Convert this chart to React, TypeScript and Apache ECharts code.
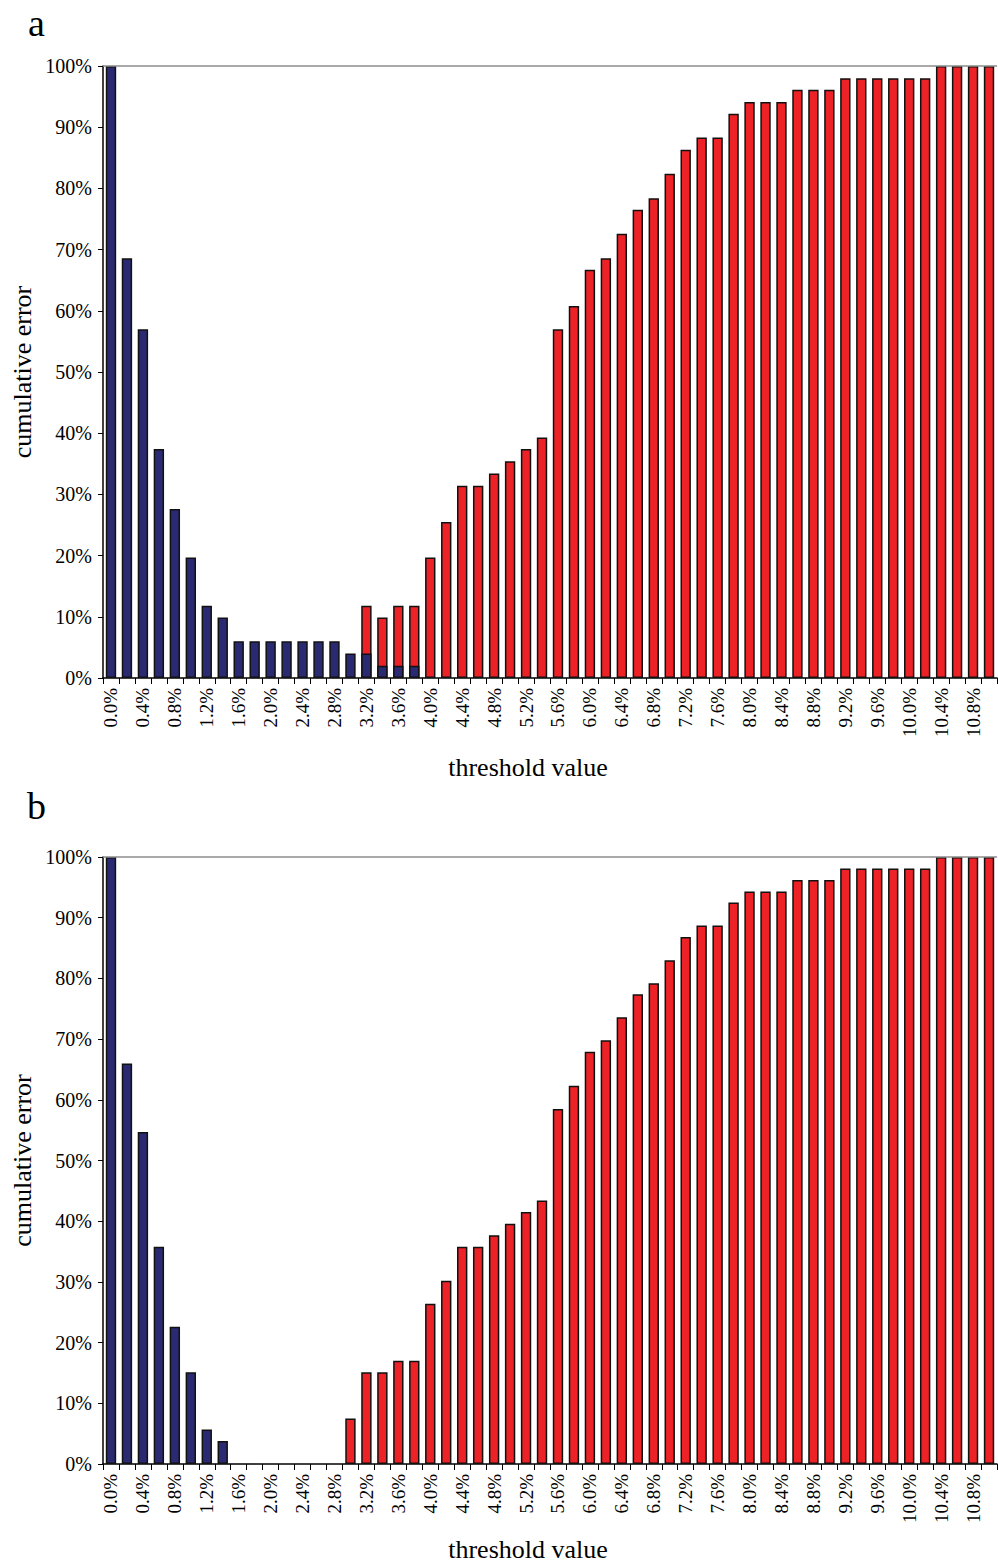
import React, { useEffect, useRef } from "react";
import * as echarts from "echarts";

const thresholds = [
  "0.0%", "0.2%", "0.4%", "0.6%", "0.8%", "1.0%", "1.2%", "1.4%", "1.6%", "1.8%",
  "2.0%", "2.2%", "2.4%", "2.6%", "2.8%", "3.0%", "3.2%", "3.4%", "3.6%", "3.8%",
  "4.0%", "4.2%", "4.4%", "4.6%", "4.8%", "5.0%", "5.2%", "5.4%", "5.6%", "5.8%",
  "6.0%", "6.2%", "6.4%", "6.6%", "6.8%", "7.0%", "7.2%", "7.4%", "7.6%", "7.8%",
  "8.0%", "8.2%", "8.4%", "8.6%", "8.8%", "9.0%", "9.2%", "9.4%", "9.6%", "9.8%",
  "10.0%", "10.2%", "10.4%", "10.6%", "10.8%", "11.0%",
];

const yTicks = [0, 10, 20, 30, 40, 50, 60, 70, 80, 90, 100];

// Panel a
const blueA = [
  100, 68.6, 57.0, 37.4, 27.6, 19.7, 11.8, 9.9, 6.0, 6.0,
  6.0, 6.0, 6.0, 6.0, 6.0, 4.0, 4.0, 2.0, 2.0, 2.0,
  null, null, null, null, null, null, null, null, null, null,
  null, null, null, null, null, null, null, null, null, null,
  null, null, null, null, null, null, null, null, null, null,
  null, null, null, null, null, null,
];
const redA = [
  null, null, null, null, null, null, null, null, null, null,
  null, null, null, null, null, null, 11.8, 9.9, 11.8, 11.8,
  19.7, 25.5, 31.4, 31.4, 33.4, 35.4, 37.4, 39.3, 57.0, 60.8,
  66.7, 68.6, 72.6, 76.5, 78.4, 82.4, 86.3, 88.3, 88.3, 92.2,
  94.1, 94.1, 94.1, 96.1, 96.1, 96.1, 98.0, 98.0, 98.0, 98.0,
  98.0, 98.0, 100, 100, 100, 100,
];

// Panel b
const blueB = [
  100, 66.0, 54.7, 35.8, 22.6, 15.1, 5.7, 3.8, null, null,
  null, null, null, null, null, null, null, null, null, null,
  null, null, null, null, null, null, null, null, null, null,
  null, null, null, null, null, null, null, null, null, null,
  null, null, null, null, null, null, null, null, null, null,
  null, null, null, null, null, null,
];
const redB = [
  null, null, null, null, null, null, null, null, null, null,
  null, null, null, null, null, 7.5, 15.1, 15.1, 17.0, 17.0,
  26.4, 30.2, 35.8, 35.8, 37.7, 39.6, 41.5, 43.4, 58.5, 62.3,
  67.9, 69.8, 73.6, 77.4, 79.2, 83.0, 86.8, 88.7, 88.7, 92.5,
  94.3, 94.3, 94.3, 96.2, 96.2, 96.2, 98.1, 98.1, 98.1, 98.1,
  98.1, 98.1, 100, 100, 100, 100,
];

const FONT = "'Liberation Serif', 'Times New Roman', serif";
const BLUE = "#2A2A72";
const RED = "#EC2227";

function xAxisFor(gridIndex: number, nameGap: number) {
  return {
    type: "category",
    gridIndex,
    data: thresholds,
    boundaryGap: true,
    name: "threshold value",
    nameLocation: "middle",
    nameGap,
    nameMoveOverlap: false,
    nameTextStyle: { fontFamily: FONT, fontSize: 26, color: "#000", padding: [0, 44, 0, 0] },
    axisLine: { show: true, lineStyle: { color: "#000", width: 1.5 } },
    axisTick: { show: true, interval: 0, length: 6, lineStyle: { color: "#000", width: 1 } },
    axisLabel: {
      interval: 1,
      rotate: 90,
      margin: 10,
      fontFamily: FONT,
      fontSize: 19,
      color: "#000",
    },
    splitLine: { show: false },
  };
}

function yAxisFor(gridIndex: number) {
  return {
    type: "value",
    gridIndex,
    min: yTicks[0],
    max: yTicks[yTicks.length - 1],
    interval: 10,
    name: "cumulative error",
    nameLocation: "middle",
    nameGap: 68,
    nameMoveOverlap: false,
    nameTextStyle: { fontFamily: FONT, fontSize: 26, color: "#000" },
    axisLine: { show: true, lineStyle: { color: "#000", width: 1.5 } },
    axisTick: { show: true, length: 5, lineStyle: { color: "#000", width: 1 } },
    axisLabel: {
      formatter: "{value}%",
      margin: 11,
      fontFamily: FONT,
      fontSize: 20,
      color: "#000",
      padding: [6, 0, 0, 0],
    },
    splitLine: { show: false },
  };
}

function barSeries(name: string, data: (number | null)[], color: string, idx: number, withTop: boolean) {
  const s: any = {
    name,
    type: "bar",
    xAxisIndex: idx,
    yAxisIndex: idx,
    data,
    barWidth: "65%",
    barGap: "-100%",
    itemStyle: { color, borderColor: "#111", borderWidth: 1.5 },
  };
  if (withTop) {
    s.markLine = {
      silent: true,
      symbol: "none",
      label: { show: false },
      lineStyle: { color: "#8c8c8c", width: 1.5, type: "solid" },
      data: [{ yAxis: 100 }],
    };
  }
  return s;
}

export default function App() {
  const ref = useRef<HTMLDivElement>(null);
  useEffect(() => {
    document.body.style.margin = "0";
    if (!ref.current) return;
    const chart = echarts.init(ref.current, undefined, { renderer: "svg" });
    chart.setOption({
      animation: false,
      backgroundColor: "#fff",
      textStyle: { fontFamily: FONT },
      grid: [
        { left: 103, top: 66, width: 894, height: 612, outerBoundsMode: "none", containLabel: false },
        { left: 103, top: 857, width: 894, height: 607, outerBoundsMode: "none", containLabel: false },
      ],
      xAxis: [xAxisFor(0, 76), xAxisFor(1, 72)],
      yAxis: [yAxisFor(0), yAxisFor(1)],
      series: [
        barSeries("red a", redA, RED, 0, true),
        barSeries("blue a", blueA, BLUE, 0, false),
        barSeries("red b", redB, RED, 1, true),
        barSeries("blue b", blueB, BLUE, 1, false),
      ],
      graphic: [
        {
          type: "text",
          x: 28,
          y: 23,
          style: { text: "a", fontFamily: FONT, fontSize: 38, fill: "#000", verticalAlign: "middle" },
        },
        {
          type: "text",
          x: 27,
          y: 806,
          style: { text: "b", fontFamily: FONT, fontSize: 38, fill: "#000", verticalAlign: "middle" },
        },
      ],
    });
    return () => chart.dispose();
  }, []);
  return (
    <div
      ref={ref}
      style={{ position: "absolute", left: 0, top: 0, width: 998, height: 1567 }}
    />
  );
}
